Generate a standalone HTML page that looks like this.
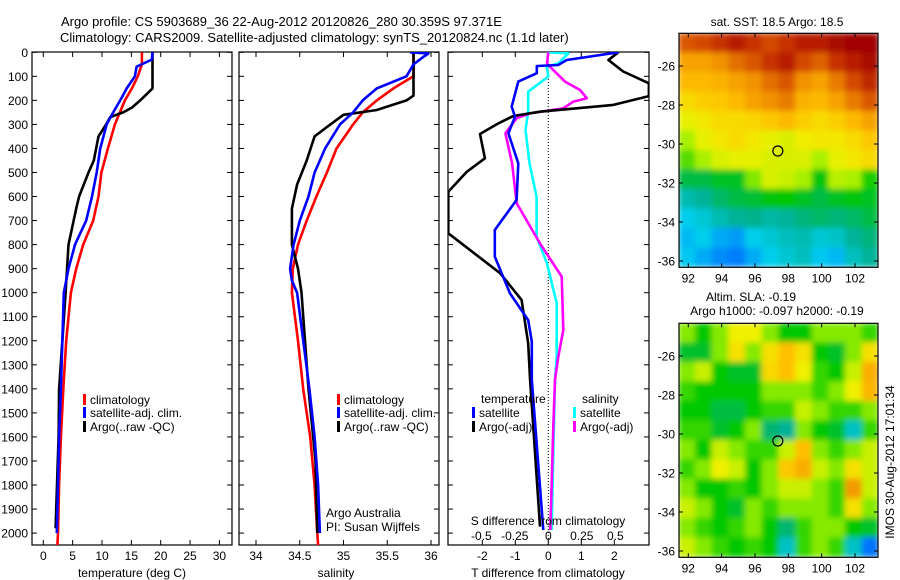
<!DOCTYPE html>
<html><head><meta charset="utf-8"><style>
html,body{margin:0;padding:0;background:#fff;}
svg{display:block;font-family:"Liberation Sans",Arial,sans-serif;}
text{fill:#000;}
</style></head><body>
<svg id="fig" width="900" height="580" viewBox="0 0 900 580" xmlns="http://www.w3.org/2000/svg">
<defs>
<filter id="blur" x="-5%" y="-5%" width="110%" height="110%"><feGaussianBlur stdDeviation="3" edgeMode="duplicate"/></filter>
<clipPath id="cp1"><rect x="32" y="52" width="200" height="493"/></clipPath>
<clipPath id="cp2"><rect x="239" y="52" width="200" height="493"/></clipPath>
<clipPath id="cp3"><rect x="448" y="52" width="201" height="493"/></clipPath>
<clipPath id="cpm1"><rect x="679" y="33" width="199" height="234"/></clipPath>
<clipPath id="cpm2"><rect x="679" y="323" width="199" height="234"/></clipPath>
</defs>
<text x="61" y="26" font-size="13">Argo profile: CS 5903689_36 22-Aug-2012 20120826_280 30.359S 97.371E</text>
<text x="60" y="42" font-size="13">Climatology: CARS2009. Satellite-adjusted climatology: synTS_20120824.nc (1.1d later)</text>
<g id="g1"></g>
<g id="g2"></g>
<g id="g3"></g>
<g id="m1"></g>
<g id="m2"></g>
<text x="777" y="26" font-size="12" text-anchor="middle">sat. SST: 18.5 Argo: 18.5</text>
<text x="751" y="301" font-size="12" text-anchor="middle">Altim. SLA: -0.19</text>
<text x="777" y="315" font-size="12" text-anchor="middle">Argo h1000: -0.097 h2000: -0.19</text>
<text transform="translate(894,462) rotate(-90)" font-size="12" text-anchor="middle">IMOS 30-Aug-2012 17:01:34</text>
</svg>
<script>
// ---- data ----
const depthTicks=[0,100,200,300,400,500,600,700,800,900,1000,1100,1200,1300,1400,1500,1600,1700,1800,1900,2000];
const tempTicks=[0,5,10,15,20,25,30];
const salTicks=[34,34.5,35,35.5,36];
const tdiffTicks=[-2,-1,0,1,2];
const sdiffTicks=[-0.5,-0.25,0,0.25,0.5];
const sdiffLabels=["-0.5","-0.25","0","0.25","0.5"];
const tClimD=[0,50,100,150,200,300,400,500,600,700,800,900,1000,1200,1400,1600,1800,2000,2050];
const tClimV=[16.8,16.8,16.1,15.1,13.9,12.2,11.0,9.9,9.4,8.5,6.8,5.6,4.7,3.9,3.4,3.0,2.7,2.5,2.4];
const tSatD=[0,30,60,100,150,200,250,300,400,500,600,700,800,900,1000,1400,1600,1800,2000];
const tSatV=[18.6,18.5,15.9,15.6,14.2,13.1,11.9,10.8,9.7,9.1,8.3,7.3,5.4,4.3,3.5,3.0,2.7,2.5,2.3];
const tArgoD=[0,150,200,230,250,270,300,350,450,500,600,650,800,1000,1400,1600,1900,1980];
const tArgoV=[18.6,18.6,16.5,15.1,13.6,11.4,10.7,9.4,8.6,7.7,6.1,5.6,4.3,3.8,2.7,2.6,2.2,2.1];
const sClimD=[0,100,150,200,250,300,400,500,600,700,800,900,1000,1200,1400,1600,1800,2000,2050];
const sClimV=[35.80,35.80,35.57,35.38,35.22,35.11,34.92,34.81,34.69,34.58,34.48,34.42,34.41,34.48,34.54,34.62,34.67,34.70,34.71];
const sSatD=[0,5,20,50,100,150,200,250,300,400,500,600,700,800,900,950,1000,1400,1600,1800,2000];
const sSatV=[35.76,35.97,35.91,35.80,35.72,35.38,35.22,35.11,34.96,34.79,34.67,34.60,34.50,34.43,34.39,34.41,34.47,34.61,34.67,34.71,34.73];
const sArgoD=[0,180,200,240,260,300,350,450,550,650,800,900,1000,1400,1700,2000];
const sArgoV=[35.80,35.80,35.72,35.38,35.00,34.85,34.67,34.58,34.47,34.41,34.41,34.48,34.52,34.60,34.68,34.70];
const dtArgoD=[0,32,80,129,182,219,247,265,296,340,441,497,580,753,919,1030,1211,1363,1973];
const dtArgoV=[2.12,1.82,2.27,3.05,3.05,1.97,-0.25,-1.06,-1.52,-2.07,-1.92,-2.47,-3.03,-3.03,-1.46,-0.81,-0.61,-0.55,-0.25];
const dtSatD=[0,32,53,57,87,122,226,268,337,462,614,739,850,1003,1114,1204,1363,1987];
const dtSatV=[2.12,0.56,0.30,-0.35,-0.35,-0.91,-1.11,-1.01,-1.21,-0.91,-0.96,-1.62,-1.62,-1.16,-0.61,-0.50,-0.50,-0.15];
const dsSatD=[0,4,46,60,101,164,247,323,462,601,767,878,1044,1266,1363,1668,1987];
const dsSatV=[-0.012,0.15,0.075,-0.012,0,-0.15,-0.15,-0.17,-0.14,-0.087,-0.087,-0.01,0.063,0.063,0.05,0.037,0.025];
const dsArgoD=[0,46,74,122,157,191,205,233,254,274,337,462,628,795,933,1155,1266,1363,1557,1807,1987];
const dsArgoV=[0,-0.01,0.037,0.125,0.237,0.287,0.187,0.112,-0.137,-0.236,-0.32,-0.27,-0.236,-0.062,0.1,0.112,0.075,0.05,0.037,0.025,0.015];
const lonTicks=[92,94,96,98,100,102];
const latTicks=[-26,-28,-30,-32,-34,-36];
const mapLonCenters=[91.9,92.9,93.9,94.9,95.9,96.9,97.9,98.9,99.9,100.9,101.9,102.9];
const mapLatCenters=[-24.8,-25.8,-26.8,-27.8,-28.8,-29.8,-30.8,-31.8,-32.8,-33.8,-34.8,-35.8];
const sstGrid=[
[20.5,20.6,20.8,21,20.8,20.6,20.8,21,21,21.2,21.3,21.3],
[19.8,19.8,20,20.3,20.5,20.8,21,20.6,20.4,20.8,21,21.2],
[19.5,19.5,19.6,19.8,20,20.3,20.5,20,19.8,20.2,20.6,20.9],
[19,19.2,19.3,19.5,19.8,20,20.2,19.6,19.5,19.8,20.2,20.5],
[18.6,18.8,19,19,19.1,19.3,19.5,19.2,19,19.2,19.5,19.8],
[18.2,18.6,18.8,19,18.8,18.6,18.5,18.7,18.8,18.8,19,19.3],
[17.8,18.2,18.5,18.6,18.6,18.5,18.5,18.5,18.2,18.6,18.8,19],
[17,17,17.2,17.2,18,18.5,18.4,18.2,17.3,18.3,18.2,17.5],
[16.3,16.5,16.8,17,17.1,17.3,17.4,17.2,17,17.2,17.3,17.2],
[15.8,16,16.3,16.5,16.6,16.4,16.5,16.7,16.8,16.7,16.8,17],
[15.6,15.8,15.5,15.4,15.8,16,16.2,16.3,16,16.1,16.5,16.7],
[15.7,15.5,15.3,15.2,15.5,15.8,16,16.2,15.7,15.6,16.2,16.5]];
const slaGrid=[
[-0.05,-0.1,-0.05,0,0,-0.05,-0.1,-0.1,-0.05,-0.05,-0.05,-0.08],
[-0.12,-0.12,-0.05,0.02,-0.05,0.02,0.06,0.02,-0.1,-0.12,-0.05,0.02],
[-0.05,-0.02,-0.1,-0.12,-0.12,0.03,0.06,0.0,-0.08,-0.1,-0.02,0.08],
[-0.08,-0.1,-0.1,-0.1,-0.1,-0.05,-0.05,-0.05,-0.08,-0.05,0,0.07],
[-0.1,-0.1,-0.13,-0.13,-0.1,-0.08,-0.08,-0.02,-0.05,-0.08,-0.08,-0.05],
[-0.08,-0.08,-0.12,-0.1,-0.05,-0.15,-0.17,-0.05,-0.1,-0.12,-0.2,-0.08],
[-0.05,-0.1,-0.02,-0.05,-0.08,-0.08,-0.02,0.06,-0.05,-0.08,-0.05,-0.02],
[-0.08,-0.05,0,-0.02,-0.1,-0.05,0.05,0.08,-0.02,-0.05,0.02,-0.02],
[-0.05,-0.1,-0.1,-0.08,-0.1,-0.05,-0.02,-0.02,-0.05,-0.08,0.1,-0.02],
[-0.02,-0.05,-0.1,-0.12,-0.05,-0.08,-0.05,-0.05,-0.05,-0.08,0.02,-0.05],
[-0.05,-0.08,-0.1,-0.08,-0.05,-0.1,-0.15,-0.08,-0.05,-0.05,-0.1,-0.12],
[-0.02,-0.05,-0.08,-0.1,-0.08,-0.1,-0.2,-0.08,-0.05,-0.08,-0.2,-0.28]];
const argoLon=97.371, argoLat=-30.359;

// ---- helpers ----
const NS="http://www.w3.org/2000/svg";
function mk(tag,attrs,parent){const e=document.createElementNS(NS,tag);for(const k in attrs)e.setAttribute(k,attrs[k]);parent.appendChild(e);return e;}
const yD=d=>52.3+d*0.2404;
function poly(parent,xs,ds,xf,color,name,w){
  const pts=xs.map((v,i)=>xf(v).toFixed(1)+","+yD(ds[i]).toFixed(1)).join(" ");
  const p=mk("polyline",{points:pts,fill:"none",stroke:color,"stroke-width":w||2.6,"stroke-linejoin":"round"},parent);
  
  
}
function frame(parent,x0,x1,name){
  const r=mk("rect",{x:x0,y:52,width:x1-x0,height:493,fill:"none",stroke:"#000","stroke-width":1.2},parent);
  
  
  depthTicks.forEach(d=>{mk("line",{x1:x0,x2:x0+5,y1:yD(d),y2:yD(d),stroke:"#000"},parent);mk("line",{x1:x1,x2:x1-5,y1:yD(d),y2:yD(d),stroke:"#000"},parent);});
}
function xticks(parent,ticks,xf,labels,y,name){
  ticks.forEach((t,i)=>{
    mk("line",{x1:xf(t),x2:xf(t),y1:545,y2:540,stroke:"#000"},parent);
    mk("line",{x1:xf(t),x2:xf(t),y1:52,y2:57,stroke:"#000"},parent);
    const tx=mk("text",{x:xf(t),y:y,"font-size":12,"text-anchor":"middle"},parent);tx.textContent=labels?labels[i]:String(t);
    
    
  });
}
function txt(parent,x,y,s,name,anchor,size){const t=mk("text",{x:x,y:y,"font-size":size||12,"text-anchor":anchor||"start"},parent);t.textContent=s;
  
  return t;}
function legend(parent,x,y,color,label,name){
  const r=mk("rect",{x:x,y:y-10,width:3,height:11,fill:color},parent);
  
  
  txt(parent,x+7,y,label,name);
}

// ---- panel 1 temperature ----
const g1=document.getElementById("g1");
const xT=t=>43.3+t*5.87;
frame(g1,32,232,"temperature-axes");
depthTicks.forEach(d=>txt(g1,28,yD(d)+4.5,String(d),"depth-tick-label","end"));
xticks(g1,tempTicks,xT,null,560,"temperature-tick-label");
txt(g1,132,577,"temperature (deg C)","temperature-axis-title","middle");
const c1=mk("g",{"clip-path":"url(#cp1)"},g1);
poly(c1,tClimV,tClimD,xT,"#ff0000","temp-climatology-line");
poly(c1,tArgoV,tArgoD,xT,"#000000","temp-argo-line");
poly(c1,tSatV,tSatD,xT,"#0000ff","temp-satellite-line");
legend(g1,83,404,"#ff0000","climatology","legend-climatology");
legend(g1,83,417,"#0000ff","satellite-adj. clim.","legend-satellite");
legend(g1,83,431,"#000000","Argo(..raw -QC)","legend-argo");

// ---- panel 2 salinity ----
const g2=document.getElementById("g2");
const xS=s=>256+(s-34)*87.5;
frame(g2,239,439,"salinity-axes");
xticks(g2,salTicks,xS,null,560,"salinity-tick-label");
txt(g2,336,577,"salinity","salinity-axis-title","middle");
const c2=mk("g",{"clip-path":"url(#cp2)"},g2);
poly(c2,sClimV,sClimD,xS,"#ff0000","sal-climatology-line");
poly(c2,sArgoV,sArgoD,xS,"#000000","sal-argo-line");
poly(c2,sSatV,sSatD,xS,"#0000ff","sal-satellite-line");
legend(g2,337,404,"#ff0000","climatology","legend-climatology");
legend(g2,337,417,"#0000ff","satellite-adj. clim.","legend-satellite");
legend(g2,337,431,"#000000","Argo(..raw -QC)","legend-argo");
txt(g2,326,517,"Argo Australia","argo-australia-label");
txt(g2,326,531,"PI: Susan Wijffels","pi-label");

// ---- panel 3 differences ----
const g3=document.getElementById("g3");
const xdT=t=>548.3+t*33, xdS=s=>548.3+s*134;
frame(g3,448,649,"difference-axes");
xticks(g3,tdiffTicks,xdT,null,560,"t-diff-tick-label");
txt(g3,548,577,"T difference from climatology","t-diff-axis-title","middle");
mk("line",{x1:548.3,x2:548.3,y1:52,y2:545,stroke:"#000","stroke-dasharray":"1,2"},g3);
const c3=mk("g",{"clip-path":"url(#cp3)"},g3);
poly(c3,dsSatV,dsSatD,xdS,"#00ffff","s-diff-satellite-line");
poly(c3,dsArgoV,dsArgoD,xdS,"#ff00ff","s-diff-argo-line");
poly(c3,dtArgoV,dtArgoD,xdT,"#000000","t-diff-argo-line");
poly(c3,dtSatV,dtSatD,xdT,"#0000ff","t-diff-satellite-line");
txt(g3,481,403,"temperature","legend-temperature-heading");
legend(g3,472,417,"#0000ff","satellite","legend-t-satellite");
legend(g3,472,431,"#000000","Argo(-adj)","legend-t-argo");
txt(g3,582,403,"salinity","legend-salinity-heading");
legend(g3,573,417,"#00ffff","satellite","legend-s-satellite");
legend(g3,573,431,"#ff00ff","Argo(-adj)","legend-s-argo");
txt(g3,548,525,"S difference from climatology","s-diff-axis-title","middle");
sdiffTicks.forEach((s,i)=>txt(g3,xdS(s),540,sdiffLabels[i],"s-diff-tick-label","middle"));

// ---- maps ----
const cmStops=[[0,[0,96,255]],[0.12,[0,208,240]],[0.25,[0,176,144]],[0.38,[0,200,0]],[0.5,[160,240,0]],[0.58,[240,240,0]],[0.7,[255,192,0]],[0.8,[240,144,0]],[0.9,[208,64,0]],[1,[160,0,0]]];
function cmap(t){t=Math.max(0,Math.min(1,t));for(let i=1;i<cmStops.length;i++){if(t<=cmStops[i][0]){const a=cmStops[i-1],b=cmStops[i],f=(t-a[0])/(b[0]-a[0]);return "rgb("+a[1].map((c,k)=>Math.round(c+(b[1][k]-c)*f)).join(",")+")";}}return "rgb(160,0,0)";}
const xLon=l=>688.3+(l-92)*16.67;
function drawMap(id,top,grid,vmin,vmax,clip,name){
  const g=document.getElementById(id);
  const yLat=la=>top+32.7+(-26-la)*19.5;
  const cg=mk("g",{"clip-path":"url("+clip+")"},g);
  const bg=mk("g",{filter:"url(#blur)"},cg);
  grid.forEach((row,r)=>row.forEach((v,c)=>{
    const x0=xLon(mapLonCenters[c]-0.5),x1=xLon(mapLonCenters[c]+0.5),y0=yLat(mapLatCenters[r]+0.5),y1=yLat(mapLatCenters[r]-0.5);
    const cell=mk("rect",{x:x0.toFixed(1),y:y0.toFixed(1),width:(x1-x0+0.6).toFixed(1),height:(y1-y0+0.6).toFixed(1),fill:cmap((v-vmin)/(vmax-vmin))},bg);
    
    
  }));
  const fr=mk("rect",{x:679,y:top,width:199,height:234,fill:"none",stroke:"#000","stroke-width":1.2},g);
  
  
  lonTicks.forEach(l=>{mk("line",{x1:xLon(l),x2:xLon(l),y1:top,y2:top+4,stroke:"#000"},g);mk("line",{x1:xLon(l),x2:xLon(l),y1:top+234,y2:top+230,stroke:"#000"},g);
    txt(g,xLon(l),top+249,String(l),name+"-lon-label","middle");});
  latTicks.forEach(la=>{mk("line",{x1:679,x2:683,y1:yLat(la),y2:yLat(la),stroke:"#000"},g);mk("line",{x1:878,x2:874,y1:yLat(la),y2:yLat(la),stroke:"#000"},g);
    txt(g,675,yLat(la)+4.5,String(la),name+"-lat-label","end");});
  const m=mk("circle",{cx:xLon(argoLon),cy:yLat(argoLat),r:5,fill:"none",stroke:"#000","stroke-width":1.2},g);
  
  
}
drawMap("m1",33.3,sstGrid,15,21.3,"#cpm1","sst-map");
drawMap("m2",323.3,slaGrid,-0.29,0.21,"#cpm2","sla-map");
</script>
</body></html>
